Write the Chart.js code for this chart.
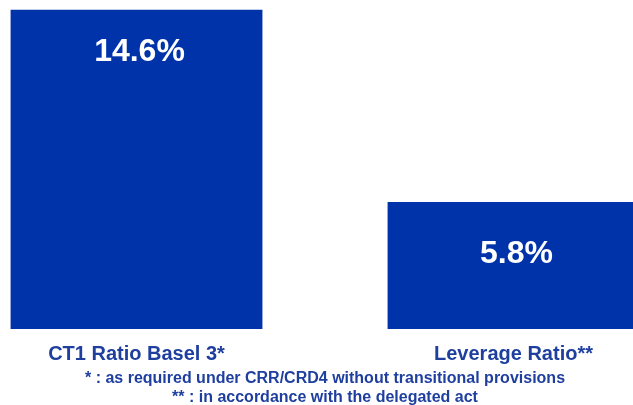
<!DOCTYPE html>
<html>
<head>
<meta charset="utf-8">
<script src="https://cdn.jsdelivr.net/npm/chart.js@4"></script>
<style>
  html, body { margin: 0; padding: 0; background: #fff; overflow: hidden; }
  #wrap { width: 754px; height: 410px; margin-left: -52px; }
</style>
</head>
<body>
<div id="wrap"><canvas id="chart"></canvas></div>
<script>
var categories = ['CT1 Ratio Basel 3*', 'Leverage Ratio**'];
var ratios = [14.6, 5.8];
var footnotes = [
  '* : as required under CRR/CRD4 without transitional provisions',
  '** : in accordance with the delegated act'
];

var barBlue = '#0033aa';
var textBlue = '#1f3f9f';
var fontFamily = '"Liberation Sans", Arial, sans-serif';

// white value labels drawn inside each bar
var valueLabels = {
  id: 'valueLabels',
  afterDatasetsDraw: function (chart, args, opts) {
    var ctx = chart.ctx;
    var meta = chart.getDatasetMeta(0);
    ctx.save();
    ctx.fillStyle = '#fff';
    ctx.font = 'bold 32px ' + fontFamily;
    ctx.textAlign = 'center';
    ctx.textBaseline = 'middle';
    meta.data.forEach(function (bar, i) {
      var v = chart.data.datasets[0].data[i];
      ctx.fillText(v.toFixed(1) + '%', bar.x + 3, bar.y + opts.offsets[i]);
    });
    ctx.restore();
  }
};

new Chart(document.getElementById('chart'), {
  type: 'bar',
  data: {
    labels: categories,
    datasets: [{
      data: ratios,
      backgroundColor: barBlue,
      borderWidth: 0,
      categoryPercentage: 1,
      barPercentage: 0.668
    }]
  },
  options: {
    responsive: true,
    maintainAspectRatio: false,
    animation: false,
    layout: { padding: { top: 9.5, left: 0, right: 0, bottom: 2.6 } },
    plugins: {
      legend: { display: false },
      tooltip: { enabled: false },
      valueLabels: { offsets: [42.5, 52.5] },
      title: {
        display: true,
        position: 'bottom',
        text: footnotes,
        color: textBlue,
        font: { family: fontFamily, size: 16, weight: 'bold', lineHeight: 1.2 },
        padding: { top: -10, bottom: 0 }
      }
    },
    scales: {
      x: {
        grid: { display: false, drawTicks: false },
        border: { display: false },
        ticks: {
          autoSkip: false,
          maxRotation: 0,
          padding: 13,
          color: textBlue,
          font: { family: fontFamily, size: 20, weight: 'bold' }
        }
      },
      y: {
        display: false,
        min: 0,
        max: Math.max.apply(null, ratios)
      }
    }
  },
  plugins: [valueLabels]
});
</script>
</body>
</html>
